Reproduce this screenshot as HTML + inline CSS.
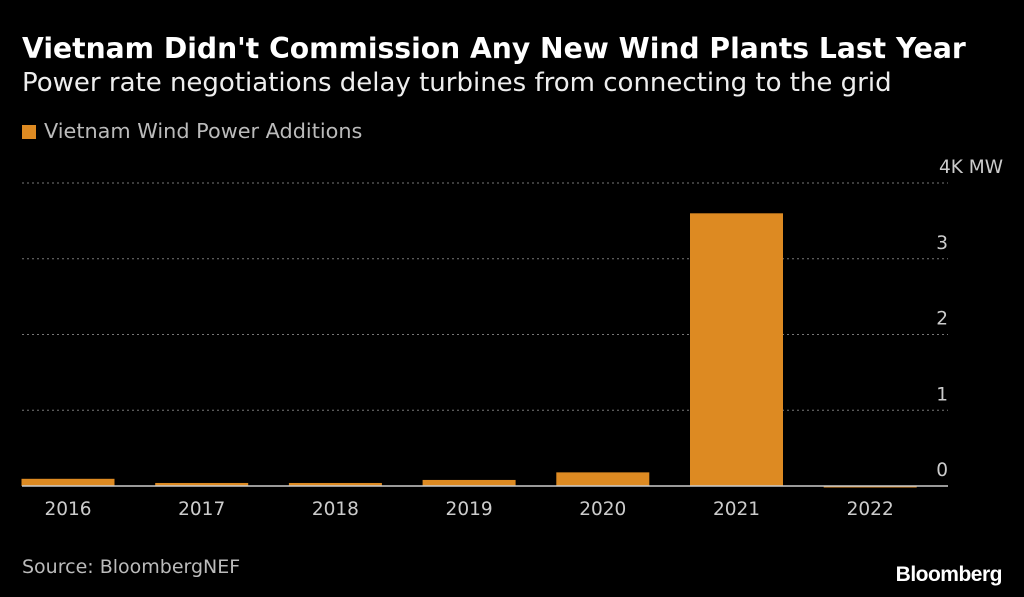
<!DOCTYPE html>
<html><head><meta charset="utf-8"><style>
body{margin:0;background:#000;width:1024px;height:597px;overflow:hidden;font-family:"DejaVu Sans",sans-serif;color:#fff;position:relative}
.t{position:absolute;white-space:nowrap}
</style></head><body>
<div class="t" style="left:22px;top:32px;font-size:28.2px;font-weight:bold">Vietnam Didn't Commission Any New Wind Plants Last Year</div>
<div class="t" style="left:22px;top:68px;font-size:26px;color:#eee">Power rate negotiations delay turbines from connecting to the grid</div>
<div class="t" style="left:22px;top:119px;font-size:20.8px;color:#bbb"><span style="display:inline-block;width:14px;height:14px;background:#dd8a22;margin-right:8px;vertical-align:-1px"></span>Vietnam Wind Power Additions</div>
<svg id="c" width="1024" height="597" style="position:absolute;left:0;top:0"></svg>
<div class="t" style="left:22px;top:556px;font-size:19px;color:#bbb">Source: BloombergNEF</div>
<div class="t" style="right:22px;top:563px;font-size:21px;font-weight:bold;letter-spacing:-0.5px;font-family:'Liberation Sans',sans-serif">Bloomberg</div>
<script>
const categories=["2016","2017","2018","2019","2020","2021","2022"];
const values=[95,40,40,80,180,3600,-20];
const ticks=[0,1000,2000,3000,4000];
const tickLabels=["0","1","2","3","4K MW"];
const svg=document.getElementById('c');
const NS="http://www.w3.org/2000/svg";
const y=v=>486-v*(303/4000);
const step=133.7,x0=1.15,bw=93;
const xc=i=>x0+step*(i+0.5);
function mk(t,a){const e=document.createElementNS(NS,t);for(const k in a)e.setAttribute(k,a[k]);svg.appendChild(e);return e;}
ticks.forEach((t,i)=>{
 if(t!==0){const l=mk('line',{x1:22,x2:948,y1:y(t),y2:y(t),stroke:'#777','stroke-dasharray':'2,3','stroke-width':1});
 
 }
 const tx=mk('text',{x:i===4?1003:948,y:y(t)-10,'text-anchor':'end',fill:'#ccc','font-size':18.5,'font-family':'DejaVu Sans, sans-serif'});
 tx.textContent=tickLabels[i];
 
 
});
values.forEach((v,i)=>{
 const top=Math.min(y(v),y(0)),h=Math.abs(y(v)-y(0));
 const r=mk('rect',{x:xc(i)-bw/2,y:top,width:bw,height:Math.max(h,1),fill:'#dd8a22'});
 
 
 const tx=mk('text',{x:xc(i),y:515,'text-anchor':'middle',fill:'#ccc','font-size':18.5,'font-family':'DejaVu Sans, sans-serif'});
 tx.textContent=categories[i];
 
 
});
const b=mk('line',{x1:22,x2:948,y1:486,y2:486,stroke:'#ccc','stroke-width':1.5});


</script>
</body></html>
